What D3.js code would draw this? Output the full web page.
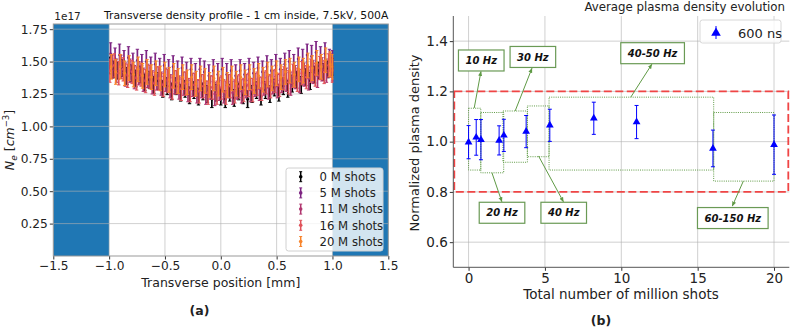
<!DOCTYPE html>
<html><head><meta charset="utf-8">
<script src="https://cdn.jsdelivr.net/npm/d3@7"></script>
<style>body{margin:0;background:#fff}svg{display:block;font-family:"DejaVu Sans",sans-serif}</style>
</head><body><svg id="c" width="792" height="329"></svg>
<script>
// ---------- Panel (a) data ----------
const positions = [-1.00,-0.96,-0.92,-0.88,-0.84,-0.80,-0.76,-0.72,-0.68,-0.64,-0.60,-0.56,-0.52,-0.48,-0.44,-0.40,-0.36,-0.32,-0.28,-0.24,-0.20,-0.16,-0.12,-0.08,-0.04,0.00,0.04,0.08,0.12,0.16,0.20,0.24,0.28,0.32,0.36,0.40,0.44,0.48,0.52,0.56,0.60,0.64,0.68,0.72,0.76,0.80,0.84,0.88,0.92,0.96,1.00];
const sampleShift = [0.000, 0.013, 0.026, 0.006, 0.019];
const shots0 = [1.47,1.44,1.43,1.45,1.39,1.41,1.37,1.40,1.34,1.36,1.32,1.35,1.29,1.31,1.27,1.31,1.26,1.29,1.24,1.28,1.23,1.27,1.25,1.21,1.26,1.23,1.21,1.26,1.22,1.27,1.24,1.21,1.25,1.28,1.23,1.28,1.25,1.30,1.26,1.31,1.29,1.33,1.36,1.32,1.38,1.35,1.40,1.43,1.42,1.44,1.46];
const shots5 = [1.56,1.52,1.55,1.50,1.53,1.48,1.51,1.47,1.50,1.45,1.48,1.44,1.47,1.43,1.46,1.42,1.45,1.41,1.44,1.40,1.44,1.42,1.39,1.43,1.40,1.44,1.40,1.43,1.39,1.43,1.40,1.44,1.41,1.45,1.42,1.46,1.43,1.47,1.44,1.48,1.50,1.47,1.52,1.51,1.55,1.54,1.57,1.53,1.56,1.51,1.50];
const shots11 = [1.46,1.43,1.46,1.40,1.43,1.38,1.41,1.36,1.39,1.34,1.37,1.33,1.36,1.31,1.34,1.30,1.33,1.28,1.32,1.27,1.31,1.26,1.30,1.25,1.29,1.27,1.31,1.26,1.30,1.27,1.31,1.28,1.32,1.29,1.33,1.30,1.34,1.31,1.35,1.36,1.33,1.38,1.35,1.40,1.37,1.42,1.39,1.44,1.43,1.47,1.44];
const shots16 = [1.43,1.47,1.41,1.44,1.39,1.42,1.37,1.40,1.35,1.38,1.33,1.37,1.32,1.35,1.30,1.34,1.29,1.33,1.28,1.32,1.27,1.31,1.26,1.30,1.26,1.30,1.26,1.31,1.27,1.31,1.28,1.32,1.28,1.33,1.29,1.34,1.31,1.35,1.32,1.37,1.34,1.39,1.36,1.41,1.38,1.43,1.40,1.45,1.42,1.47,1.43];
const shots20 = [1.46,1.42,1.46,1.41,1.45,1.40,1.44,1.39,1.42,1.38,1.41,1.37,1.40,1.36,1.39,1.35,1.38,1.34,1.38,1.33,1.37,1.35,1.32,1.37,1.33,1.36,1.32,1.37,1.33,1.38,1.34,1.38,1.35,1.39,1.36,1.40,1.37,1.41,1.38,1.42,1.43,1.40,1.44,1.43,1.47,1.45,1.49,1.46,1.51,1.48,1.46];
const seriesNames = ["0 M shots","5 M shots","11 M shots","16 M shots","20 M shots"];
const seriesValues = [shots0, shots5, shots11, shots16, shots20];
const seriesErrors = [0.065, 0.085, 0.09, 0.09, 0.095];
const seriesColors = ["#000000","#7d2482","#b0366f","#e0525a","#f8842c"];
const aXTicks = [-1.5,-1.0,-0.5,0.0,0.5,1.0,1.5];
const aYTicks = [0.25,0.50,0.75,1.00,1.25,1.50,1.75];
const shadedRanges = [[-1.5,-1.0],[1.0,1.5]];

// ---------- Panel (b) data ----------
const millionShots = [0, 0.5, 0.81, 2.0, 2.31, 3.77, 5.32, 8.2, 11.0, 16.0, 20.0];
const normDensity  = [0.998, 1.017, 1.008, 1.005, 1.025, 1.040, 1.065, 1.093, 1.078, 0.973, 0.988];
const densityErr   = [0.066, 0.071, 0.080, 0.058, 0.064, 0.064, 0.064, 0.064, 0.066, 0.073, 0.118];
const bXTicks = [0,5,10,15,20];
const bYTicks = [0.6,0.8,1.0,1.2,1.4];
const toleranceBand = [0.8, 1.2];
// frequency groups: [x0, x1, y0, y1]
const groupRects = [[0,0.8,0.887,1.133],[0.8,2.3,0.876,1.116],[2.25,3.85,0.918,1.122],[3.85,5.27,0.94,1.142],[5.27,16.05,0.887,1.177],[16.05,20,0.843,1.116]];
const groupLabels = ["10 Hz","20 Hz","30 Hz","40 Hz","40-50 Hz","60-150 Hz"];
const labelCenters = [[0.83,1.323],[2.19,0.717],[4.21,1.337],[6.23,0.717],[12.05,1.352],[17.3,0.696]];
const arrowFrom = [[0.37,1.134],[1.53,0.876],[3.05,1.122],[4.58,0.943],[10.62,1.177],[17.99,0.843]];
const arrowTo = [[0.81,1.279],[2.18,0.761],[4.15,1.292],[6.21,0.761],[12.0,1.308],[17.27,0.744]];

const svg = d3.select("#c");
const defs = svg.append("defs");

// ================= Panel (a) =================
const A = {l:53.3, r:388.3, t:24, b:256};
const xa = d3.scaleLinear().domain([-1.5,1.5]).range([A.l, A.r]);
const ya = d3.scaleLinear().domain([0,1.79]).range([A.b, A.t]);
defs.append("clipPath").attr("id","clipA").append("rect").attr("x",xa(-1)).attr("y",A.t).attr("width",xa(1)-xa(-1)+1).attr("height",A.b-A.t);

const ga = svg.append("g");
ga.selectAll("rect.span").data(shadedRanges).join("rect")
  .attr("x",d=>xa(d[0])).attr("width",d=>xa(d[1])-xa(d[0]))
  .attr("y",A.t).attr("height",A.b-A.t).attr("fill","#1f77b4");
ga.append("g").selectAll("line").data(aXTicks.slice(1,-1)).join("line")
  .attr("x1",d=>xa(d)).attr("x2",d=>xa(d)).attr("y1",A.t).attr("y2",A.b)
  .attr("stroke","#b0b0b0").attr("stroke-opacity",0.6).attr("stroke-width",1);
ga.append("g").selectAll("line").data(aYTicks).join("line")
  .attr("x1",A.l).attr("x2",A.r).attr("y1",d=>ya(d)).attr("y2",d=>ya(d))
  .attr("stroke","#b0b0b0").attr("stroke-opacity",0.6).attr("stroke-width",1);

const dataA = ga.append("g").attr("clip-path","url(#clipA)");
seriesValues.forEach((vals,si)=>{
  const g = dataA.append("g");
  const col = seriesColors[si], e = seriesErrors[si];
  vals.forEach((v,i)=>{
    const x = xa(Math.min(1, positions[i] + sampleShift[si]));
    g.append("line").attr("x1",x).attr("x2",x).attr("y1",ya(v-e)).attr("y2",ya(v+e)).attr("stroke",col).attr("stroke-width",1.7);
    g.append("line").attr("x1",x-1.7).attr("x2",x+1.7).attr("y1",ya(v-e)).attr("y2",ya(v-e)).attr("stroke",col).attr("stroke-width",1);
    g.append("line").attr("x1",x-1.7).attr("x2",x+1.7).attr("y1",ya(v+e)).attr("y2",ya(v+e)).attr("stroke",col).attr("stroke-width",1);
    g.append("circle").attr("cx",x).attr("cy",ya(v)).attr("r",1.4).attr("fill",col);
  });
});

const axA = svg.append("g").attr("transform",`translate(0,${A.b})`)
  .call(d3.axisBottom(xa).tickValues(aXTicks).tickFormat(d3.format(".1f")).tickSize(3.5).tickPadding(2));
const ayA = svg.append("g").attr("transform",`translate(${A.l},0)`)
  .call(d3.axisLeft(ya).tickValues(aYTicks).tickFormat(d3.format(".2f")).tickSize(3.5).tickPadding(2));
[axA,ayA].forEach(a=>{a.select(".domain").remove();a.selectAll("text").attr("font-size",12.2).attr("fill","#222").attr("font-family","DejaVu Sans");a.selectAll("line").attr("stroke","#333");});
axA.selectAll("text").text(d=>d3.format(".1f")(d).replace("-","\u2212"));
svg.append("rect").attr("x",A.l).attr("y",A.t).attr("width",A.r-A.l).attr("height",A.b-A.t).attr("fill","none").attr("stroke","#999").attr("stroke-width",1);

svg.append("text").attr("x",A.l+1).attr("y",20).attr("font-size",10.5).attr("fill","#222").text("1e17");
svg.append("text").attr("x",A.r).attr("y",19).attr("text-anchor","end").attr("font-size",10.8).attr("fill","#111").text("Transverse density profile - 1 cm inside, 7.5kV, 500A");
svg.append("text").attr("x",(A.l+A.r)/2).attr("y",287).attr("text-anchor","middle").attr("font-size",12.5).attr("fill","#222").text("Transverse position [mm]");
const ylab = svg.append("text").attr("transform","translate(14,140) rotate(-90)").attr("text-anchor","middle").attr("font-size",12.5).attr("fill","#222");
ylab.append("tspan").attr("font-style","italic").text("N");
ylab.append("tspan").attr("font-style","italic").attr("font-size",9).attr("dy",3).text("e");
ylab.append("tspan").attr("dy",-3).text("  [");
ylab.append("tspan").attr("font-style","italic").text("cm");
ylab.append("tspan").attr("font-size",8.5).attr("dy",-5).text("\u22123");
ylab.append("tspan").attr("dy",5).text("]");
svg.append("text").attr("x",199.5).attr("y",315).attr("text-anchor","middle").attr("font-size",12.5).attr("font-weight","bold").attr("fill","#222").text("(a)");

// legend (a)
const lgA = svg.append("g");
lgA.append("rect").attr("x",286).attr("y",168).attr("width",97).attr("height",83).attr("rx",2.5)
  .attr("fill","#fff").attr("fill-opacity",0.8).attr("stroke","#d0d0d0");
seriesNames.forEach((n,i)=>{
  const y = 176.7 + i*16.2, x = 300.7, col = seriesColors[i];
  lgA.append("line").attr("x1",x).attr("x2",x).attr("y1",y-5).attr("y2",y+5).attr("stroke",col).attr("stroke-width",1.5);
  lgA.append("line").attr("x1",x-1.5).attr("x2",x+1.5).attr("y1",y-5).attr("y2",y-5).attr("stroke",col);
  lgA.append("line").attr("x1",x-1.5).attr("x2",x+1.5).attr("y1",y+5).attr("y2",y+5).attr("stroke",col);
  lgA.append("circle").attr("cx",x).attr("cy",y).attr("r",1.8).attr("fill",col);
  lgA.append("text").attr("x",319.5).attr("y",y+4.3).attr("font-size",11.7).attr("fill","#222").text(n);
});

// ================= Panel (b) =================
const B = {l:453.3, r:789.3, t:16, b:267.3};
const xb = d3.scaleLinear().domain([-1,21]).range([B.l, B.r]);
const yb = d3.scaleLinear().domain([0.5,1.5]).range([B.b, B.t]);
const gb = svg.append("g");
gb.append("g").selectAll("line").data(bXTicks).join("line")
  .attr("x1",d=>xb(d)).attr("x2",d=>xb(d)).attr("y1",B.t).attr("y2",B.b)
  .attr("stroke","#b0b0b0").attr("stroke-opacity",0.6);
gb.append("g").selectAll("line").data(bYTicks).join("line")
  .attr("x1",B.l).attr("x2",B.r).attr("y1",d=>yb(d)).attr("y2",d=>yb(d))
  .attr("stroke","#b0b0b0").attr("stroke-opacity",0.6);

gb.append("rect").attr("x",xb(-1)+1).attr("y",yb(toleranceBand[1])).attr("width",xb(21)-xb(-1)-2)
  .attr("height",yb(toleranceBand[0])-yb(toleranceBand[1]))
  .attr("fill","none").attr("stroke","#f04545").attr("stroke-width",1.8).attr("stroke-dasharray","8,3.5");

gb.append("g").selectAll("rect").data(groupRects).join("rect")
  .attr("x",d=>xb(d[0])).attr("width",d=>xb(d[1])-xb(d[0]))
  .attr("y",d=>yb(d[3])).attr("height",d=>yb(d[2])-yb(d[3]))
  .attr("fill","none").attr("stroke","#5f9a45").attr("stroke-width",1).attr("stroke-dasharray","1,1.2");

defs.append("marker").attr("id","arr").attr("viewBox","0 0 10 10").attr("refX",9).attr("refY",5)
  .attr("markerWidth",5).attr("markerHeight",5).attr("orient","auto")
  .append("path").attr("d","M0,1 L10,5 L0,9 z").attr("fill","#5f9a45");
groupLabels.forEach((lab,i)=>{
  gb.append("line").attr("x1",xb(arrowFrom[i][0])).attr("y1",yb(arrowFrom[i][1]))
    .attr("x2",xb(arrowTo[i][0])).attr("y2",yb(arrowTo[i][1]))
    .attr("stroke","#5f9a45").attr("stroke-width",1).attr("marker-end","url(#arr)");
  const cx = xb(labelCenters[i][0]), cy = yb(labelCenters[i][1]);
  const t = gb.append("text").attr("x",cx).attr("y",cy+3.6).attr("text-anchor","middle")
    .attr("font-size",10).attr("font-weight","bold").attr("font-style","italic").attr("fill","#111").text(lab);
  const w = t.node().getComputedTextLength() + 14;
  gb.insert("rect", function(){return t.node();}).attr("x",cx-w/2).attr("y",cy-10.5).attr("width",w).attr("height",21)
    .attr("fill","#fff").attr("stroke","#6a9a55").attr("stroke-width",1.2);
});

const blue = "#0000ff";
millionShots.forEach((x,i)=>{
  const X = xb(x), v = normDensity[i], e = densityErr[i];
  gb.append("line").attr("x1",X).attr("x2",X).attr("y1",yb(v-e)).attr("y2",yb(v+e)).attr("stroke",blue).attr("stroke-width",1);
  [v-e,v+e].forEach(q=>gb.append("line").attr("x1",X-2).attr("x2",X+2).attr("y1",yb(q)).attr("y2",yb(q)).attr("stroke",blue).attr("stroke-width",1));
  gb.append("path").attr("d",d3.symbol().type(d3.symbolTriangle).size(26)()).attr("transform",`translate(${X},${yb(v)})`).attr("fill",blue);
});

const axB = svg.append("g").attr("transform",`translate(0,${B.b})`)
  .call(d3.axisBottom(xb).tickValues(bXTicks).tickFormat(d3.format("d")).tickSize(3.5).tickPadding(3));
const ayB = svg.append("g").attr("transform",`translate(${B.l},0)`)
  .call(d3.axisLeft(yb).tickValues(bYTicks).tickFormat(d3.format(".1f")).tickSize(3.5).tickPadding(2));
[axB,ayB].forEach(a=>{a.select(".domain").remove();a.selectAll("text").attr("font-size",13.5).attr("fill","#222").attr("font-family","DejaVu Sans");a.selectAll("line").attr("stroke","#333");});
svg.append("line").attr("x1",B.l).attr("x2",B.l).attr("y1",B.t).attr("y2",B.b).attr("stroke","#555");
svg.append("line").attr("x1",B.l).attr("x2",B.r).attr("y1",B.b).attr("y2",B.b).attr("stroke","#555");

svg.append("text").attr("x",785).attr("y",11).attr("text-anchor","end").attr("font-size",11.8).attr("fill","#222").text("Average plasma density evolution");
svg.append("text").attr("x",621).attr("y",299).attr("text-anchor","middle").attr("font-size",13.5).attr("fill","#222").text("Total number of million shots");
svg.append("text").attr("transform","translate(419,143) rotate(-90)").attr("text-anchor","middle").attr("font-size",13).attr("fill","#222").text("Normalized plasma density");
svg.append("text").attr("x",601).attr("y",325).attr("text-anchor","middle").attr("font-size",12.5).attr("font-weight","bold").attr("fill","#222").text("(b)");

const lgB = svg.append("g");
lgB.append("rect").attr("x",700).attr("y",20).attr("width",81).attr("height",23).attr("rx",2.5).attr("fill","#fff").attr("fill-opacity",0.8).attr("stroke","#d8d8d8");
lgB.append("line").attr("x1",716).attr("x2",716).attr("y1",26).attr("y2",39).attr("stroke",blue);
lgB.append("path").attr("d",d3.symbol().type(d3.symbolTriangle).size(40)()).attr("transform","translate(716,33)").attr("fill",blue);
lgB.append("text").attr("x",738).attr("y",37.5).attr("font-size",13).attr("fill","#222").text("600 ns");
</script></body></html>
